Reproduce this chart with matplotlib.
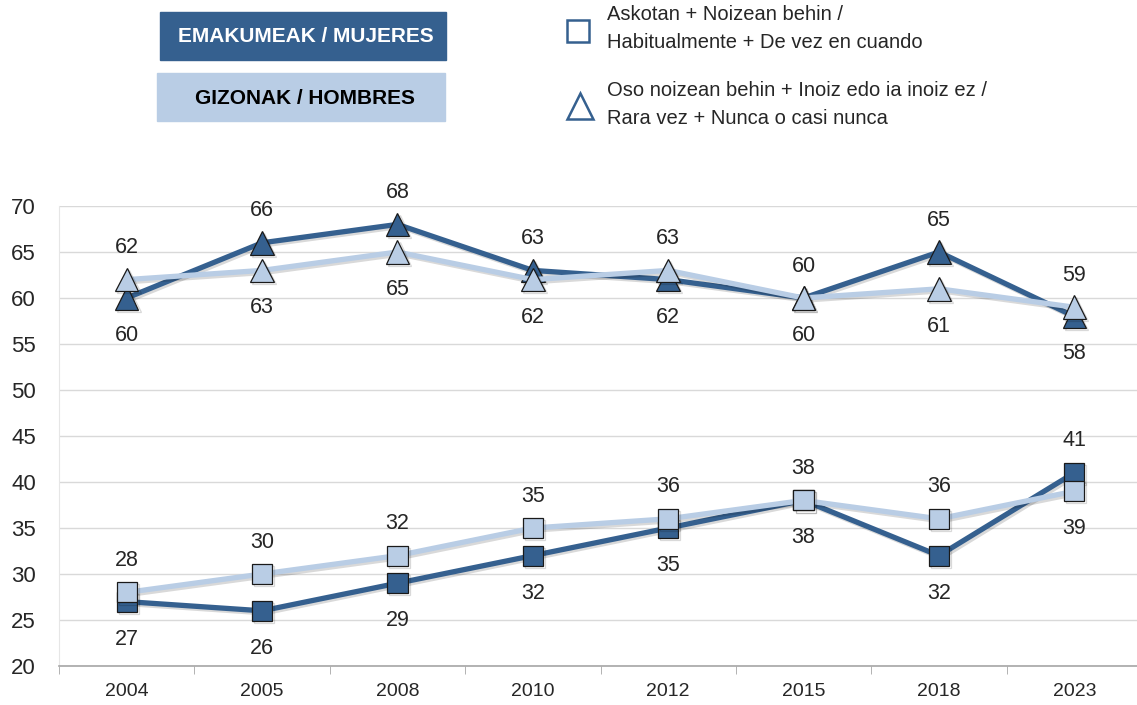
import matplotlib.pyplot as plt
import matplotlib.patheffects as pe
from matplotlib.patches import Rectangle
from matplotlib.lines import Line2D

plt.rcParams['font.family'] = ['Liberation Sans', 'DejaVu Sans']

years = ['2004', '2005', '2008', '2010', '2012', '2015', '2018', '2023']
# Askotan + Noizean behin (squares)
women_often = [27, 26, 29, 32, 35, 38, 32, 41]
men_often = [28, 30, 32, 35, 36, 38, 36, 39]
# Oso noizean behin + Inoiz edo ia inoiz ez (triangles)
women_rare = [60, 66, 68, 63, 62, 60, 65, 58]
men_rare = [62, 63, 65, 62, 63, 60, 61, 59]

dark = '#35608F'
light = '#B9CDE5'
txt = '#262626'

fig = plt.figure(figsize=(11.37, 7.05), dpi=100)
ax = fig.add_axes([59 / 1137, 39 / 705, 1083 / 1137, 460 / 705])

x = list(range(len(years)))
shadow = [pe.SimpleLineShadow(offset=(1.5, -1.5), alpha=0.15, shadow_color='black'), pe.Normal()]

ax.plot(x, women_rare, color=dark, lw=3.8, marker='^', ms=17, mfc=dark, mec='#1a1a1a',
        mew=0.9, zorder=3, clip_on=False, path_effects=shadow)
ax.plot(x, men_rare, color=light, lw=3.8, marker='^', ms=17, mfc=light, mec='#1a1a1a',
        mew=0.9, zorder=4, clip_on=False, path_effects=shadow)
ax.plot(x, women_often, color=dark, lw=3.8, marker='s', ms=14.5, mfc=dark, mec='#1a1a1a',
        mew=0.9, zorder=3, clip_on=False, path_effects=shadow)
ax.plot(x, men_often, color=light, lw=3.8, marker='s', ms=14.5, mfc=light, mec='#1a1a1a',
        mew=0.9, zorder=4, clip_on=False, path_effects=shadow)


def label_pair(a, b):
    for i in range(len(x)):
        if a[i] >= b[i]:
            oa, ob = 23, -27
        else:
            oa, ob = -27, 23
        ax.annotate(str(a[i]), (x[i], a[i]), xytext=(0, oa), textcoords='offset points',
                    ha='center', va='center', fontsize=15.5, color=txt)
        ax.annotate(str(b[i]), (x[i], b[i]), xytext=(0, ob), textcoords='offset points',
                    ha='center', va='center', fontsize=15.5, color=txt)


label_pair(women_rare, men_rare)
label_pair(men_often, women_often)

ax.set_xlim(-0.5, len(years) - 0.5)
ax.set_ylim(20, 70)
ax.set_yticks(range(20, 71, 5))
ax.set_xticks(x)
ax.set_xticklabels(years)
ax.set_xticks([i + 0.5 for i in range(-1, len(years))], minor=True)
ax.tick_params(axis='y', length=0, labelsize=16, labelcolor=txt, pad=34.5)
ax.tick_params(axis='x', which='major', length=0, labelsize=14, labelcolor=txt, pad=12)
ax.tick_params(axis='x', which='minor', length=6, color='#a6a6a6', direction='out')
ax.grid(axis='y', color='#d9d9d9', lw=1)
ax.set_axisbelow(True)
for s in ['top', 'right']:
    ax.spines[s].set_visible(False)
ax.spines['left'].set_color('#e6e6e6')
ax.spines['bottom'].set_color('#a6a6a6')
ax.spines['bottom'].set_linewidth(1.2)
for t in ax.get_yticklabels():
    t.set_horizontalalignment('left')

# header legend drawn in pixel coordinates
hx = fig.add_axes([0, 0, 1, 1])
hx.set_xlim(0, 1137)
hx.set_ylim(705, 0)
hx.axis('off')
hx.add_patch(Rectangle((160, 12), 286, 48, color=dark))
hx.text(306, 37, 'EMAKUMEAK / MUJERES', ha='center', va='center', fontsize=15,
        fontweight='bold', color='white')
hx.add_patch(Rectangle((157, 73), 288, 48, color=light))
hx.text(305, 99, 'GIZONAK / HOMBRES', ha='center', va='center', fontsize=15,
        fontweight='bold', color='black')
hx.add_line(Line2D([578], [31], marker='s', ms=16, mfc='white', mec=dark, mew=1.8))
hx.add_line(Line2D([580], [106], marker='^', ms=19, mfc='white', mec=dark, mew=1.8))
hx.text(607, 15, 'Askotan + Noizean behin /', ha='left', va='center', fontsize=14.5, color=txt)
hx.text(607, 42, 'Habitualmente + De vez en cuando', ha='left', va='center', fontsize=14.5, color=txt)
hx.text(607, 91, 'Oso noizean behin + Inoiz edo ia inoiz ez /', ha='left', va='center',
        fontsize=14.5, color=txt)
hx.text(607, 118, 'Rara vez + Nunca o casi nunca', ha='left', va='center', fontsize=14.5, color=txt)

fig.savefig('out.png', dpi=100)
